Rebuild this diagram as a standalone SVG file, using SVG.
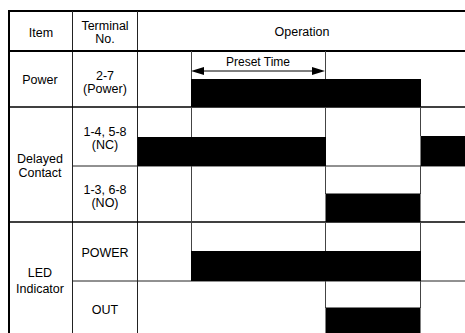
<svg xmlns="http://www.w3.org/2000/svg" width="465" height="333" viewBox="0 0 465 333">
<style>
text{font-family:"Liberation Sans",Arial,sans-serif;font-size:12.5px;fill:#000;text-anchor:middle}
.thick{stroke:#000;stroke-width:2;fill:none}
.mid{stroke:#000;stroke-width:1.5;fill:none}
.thin{stroke:#222;stroke-width:1;fill:none}
.grid{stroke:#444;stroke-width:1;fill:none}
.bar{fill:#000}
</style>
<rect width="465" height="333" fill="#fff"/>
<g id="table">
<line class="thick" x1="8" y1="11" x2="465" y2="11"/>
<line class="thick" x1="9" y1="10" x2="9" y2="333"/>
<line class="thin" x1="72.5" y1="11" x2="72.5" y2="333"/>
<line class="thin" x1="137.5" y1="11" x2="137.5" y2="333"/>
<line class="thick" x1="9" y1="51" x2="465" y2="51"/>
<line class="mid" x1="9" y1="107" x2="465" y2="107"/>
<line class="mid" x1="9" y1="222" x2="465" y2="222"/>
<line class="thin" x1="72.5" y1="166" x2="465" y2="166"/>
<line class="thin" x1="72.5" y1="281" x2="465" y2="281"/>
</g>
<g id="connectors">
<path class="grid" d="M191.5 51V79 M191.5 107V137 M191.5 166V251 M325.5 51V79 M325.5 107V194 M325.5 222V251 M325.5 281V308 M420.5 107V136 M420.5 166V194 M420.5 222V251 M420.5 281V308"/>
<line stroke="#000" stroke-width="1" x1="200" y1="71" x2="316" y2="71"/>
<polygon points="191,71 204,67 204,75" fill="#000"/>
<polygon points="325,71 312,67 312,75" fill="#000"/>
</g>
<g id="bars">
<rect class="bar" x="191" y="79" width="230" height="28"/>
<rect class="bar" x="137.5" y="137" width="188.5" height="29"/>
<rect class="bar" x="420.5" y="136" width="44.5" height="30"/>
<rect class="bar" x="325.5" y="193.5" width="95" height="28.5"/>
<rect class="bar" x="191" y="251" width="230" height="30"/>
<rect class="bar" x="325.5" y="307.5" width="95" height="25.5"/>
</g>
<g id="header">
<text x="41" y="37">Item</text>
<text x="105" y="30">Terminal</text>
<text x="105" y="43">No.</text>
<text x="302" y="36">Operation</text>
</g>
<g id="row-power">
<text x="40" y="84">Power</text>
<text x="105" y="80">2-7</text>
<text x="105" y="93">(Power)</text>
<text x="258" y="66" style="font-size:12px">Preset Time</text>
</g>
<g id="row-delayed">
<text x="40" y="163">Delayed</text>
<text x="40" y="177">Contact</text>
<text x="105" y="136">1-4, 5-8</text>
<text x="105" y="149">(NC)</text>
<text x="105" y="194">1-3, 6-8</text>
<text x="105" y="207">(NO)</text>
</g>
<g id="row-led">
<text x="40" y="277">LED</text>
<text x="40" y="293">Indicator</text>
<text x="105" y="257">POWER</text>
<text x="105" y="314">OUT</text>
</g>
</svg>
